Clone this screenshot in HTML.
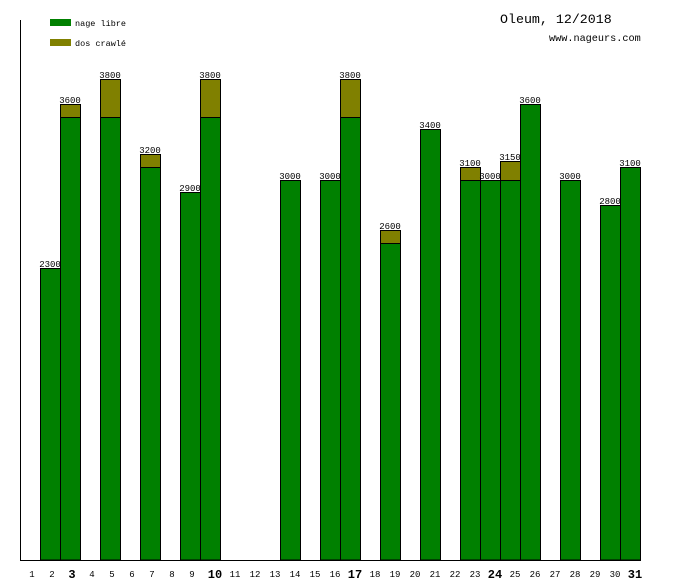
<!DOCTYPE html><html><head><style>body{margin:0;background:#fff}svg{display:block}</style></head><body>
<svg width="680" height="580" xmlns="http://www.w3.org/2000/svg" font-family="Liberation Mono, monospace">
<rect width="680" height="580" fill="#fff"/>
<g stroke="#000" stroke-width="1">
<rect x="40.5" y="268.5" width="20" height="291.5" fill="#008000"/>
<rect x="60.5" y="104.5" width="20" height="13" fill="#808000"/><rect x="60.5" y="117.5" width="20" height="442.5" fill="#008000"/>
<rect x="100.5" y="79.5" width="20" height="38" fill="#808000"/><rect x="100.5" y="117.5" width="20" height="442.5" fill="#008000"/>
<rect x="140.5" y="154.5" width="20" height="13" fill="#808000"/><rect x="140.5" y="167.5" width="20" height="392.5" fill="#008000"/>
<rect x="180.5" y="192.5" width="20" height="367.5" fill="#008000"/>
<rect x="200.5" y="79.5" width="20" height="38" fill="#808000"/><rect x="200.5" y="117.5" width="20" height="442.5" fill="#008000"/>
<rect x="280.5" y="180.5" width="20" height="379.5" fill="#008000"/>
<rect x="320.5" y="180.5" width="20" height="379.5" fill="#008000"/>
<rect x="340.5" y="79.5" width="20" height="38" fill="#808000"/><rect x="340.5" y="117.5" width="20" height="442.5" fill="#008000"/>
<rect x="380.5" y="230.5" width="20" height="13" fill="#808000"/><rect x="380.5" y="243.5" width="20" height="316.5" fill="#008000"/>
<rect x="420.5" y="129.5" width="20" height="430.5" fill="#008000"/>
<rect x="460.5" y="167.5" width="20" height="13" fill="#808000"/><rect x="460.5" y="180.5" width="20" height="379.5" fill="#008000"/>
<rect x="480.5" y="180.5" width="20" height="379.5" fill="#008000"/>
<rect x="500.5" y="161.5" width="20" height="19" fill="#808000"/><rect x="500.5" y="180.5" width="20" height="379.5" fill="#008000"/>
<rect x="520.5" y="104.5" width="20" height="455.5" fill="#008000"/>
<rect x="560.5" y="180.5" width="20" height="379.5" fill="#008000"/>
<rect x="600.5" y="205.5" width="20" height="354.5" fill="#008000"/>
<rect x="620.5" y="167.5" width="20" height="392.5" fill="#008000"/>
<line x1="20.5" y1="20" x2="20.5" y2="560.5"/>
<line x1="20" y1="560.5" x2="641" y2="560.5"/>
</g>
<g font-size="9" text-anchor="middle" fill="#000">
<text x="50" y="267">2300</text><text x="70" y="103">3600</text><text x="110" y="78">3800</text>
<text x="150" y="153">3200</text><text x="190" y="191">2900</text><text x="210" y="78">3800</text>
<text x="290" y="179">3000</text><text x="330" y="179">3000</text><text x="350" y="78">3800</text>
<text x="390" y="229">2600</text><text x="430" y="128">3400</text><text x="470" y="166">3100</text>
<text x="490" y="179">3000</text><text x="510" y="160">3150</text><text x="530" y="103">3600</text>
<text x="570" y="179">3000</text><text x="610" y="204">2800</text><text x="630" y="166">3100</text>
</g>
<g font-size="9" text-anchor="middle" fill="#000">
<text x="32" y="577">1</text><text x="52" y="577">2</text><text x="72" y="578" font-size="12" font-weight="bold">3</text>
<text x="92" y="577">4</text><text x="112" y="577">5</text><text x="132" y="577">6</text><text x="152" y="577">7</text>
<text x="172" y="577">8</text><text x="192" y="577">9</text><text x="215" y="578" font-size="12" font-weight="bold">10</text>
<text x="235" y="577">11</text><text x="255" y="577">12</text><text x="275" y="577">13</text><text x="295" y="577">14</text>
<text x="315" y="577">15</text><text x="335" y="577">16</text><text x="355" y="578" font-size="12" font-weight="bold">17</text>
<text x="375" y="577">18</text><text x="395" y="577">19</text><text x="415" y="577">20</text><text x="435" y="577">21</text>
<text x="455" y="577">22</text><text x="475" y="577">23</text><text x="495" y="578" font-size="12" font-weight="bold">24</text>
<text x="515" y="577">25</text><text x="535" y="577">26</text><text x="555" y="577">27</text><text x="575" y="577">28</text>
<text x="595" y="577">29</text><text x="615" y="577">30</text><text x="635" y="578" font-size="12" font-weight="bold">31</text>
</g>
<rect x="50" y="19" width="21" height="7" fill="#008000"/>
<rect x="50" y="39" width="21" height="7" fill="#808000"/>
<text x="75" y="26" font-size="8.5">nage libre</text>
<text x="75" y="46" font-size="8.5">dos crawlé</text>
<text x="500" y="23" font-size="13.3">Oleum, 12/2018</text>
<text x="549" y="41" font-size="10.2">www.nageurs.com</text>
</svg>
</body></html>
